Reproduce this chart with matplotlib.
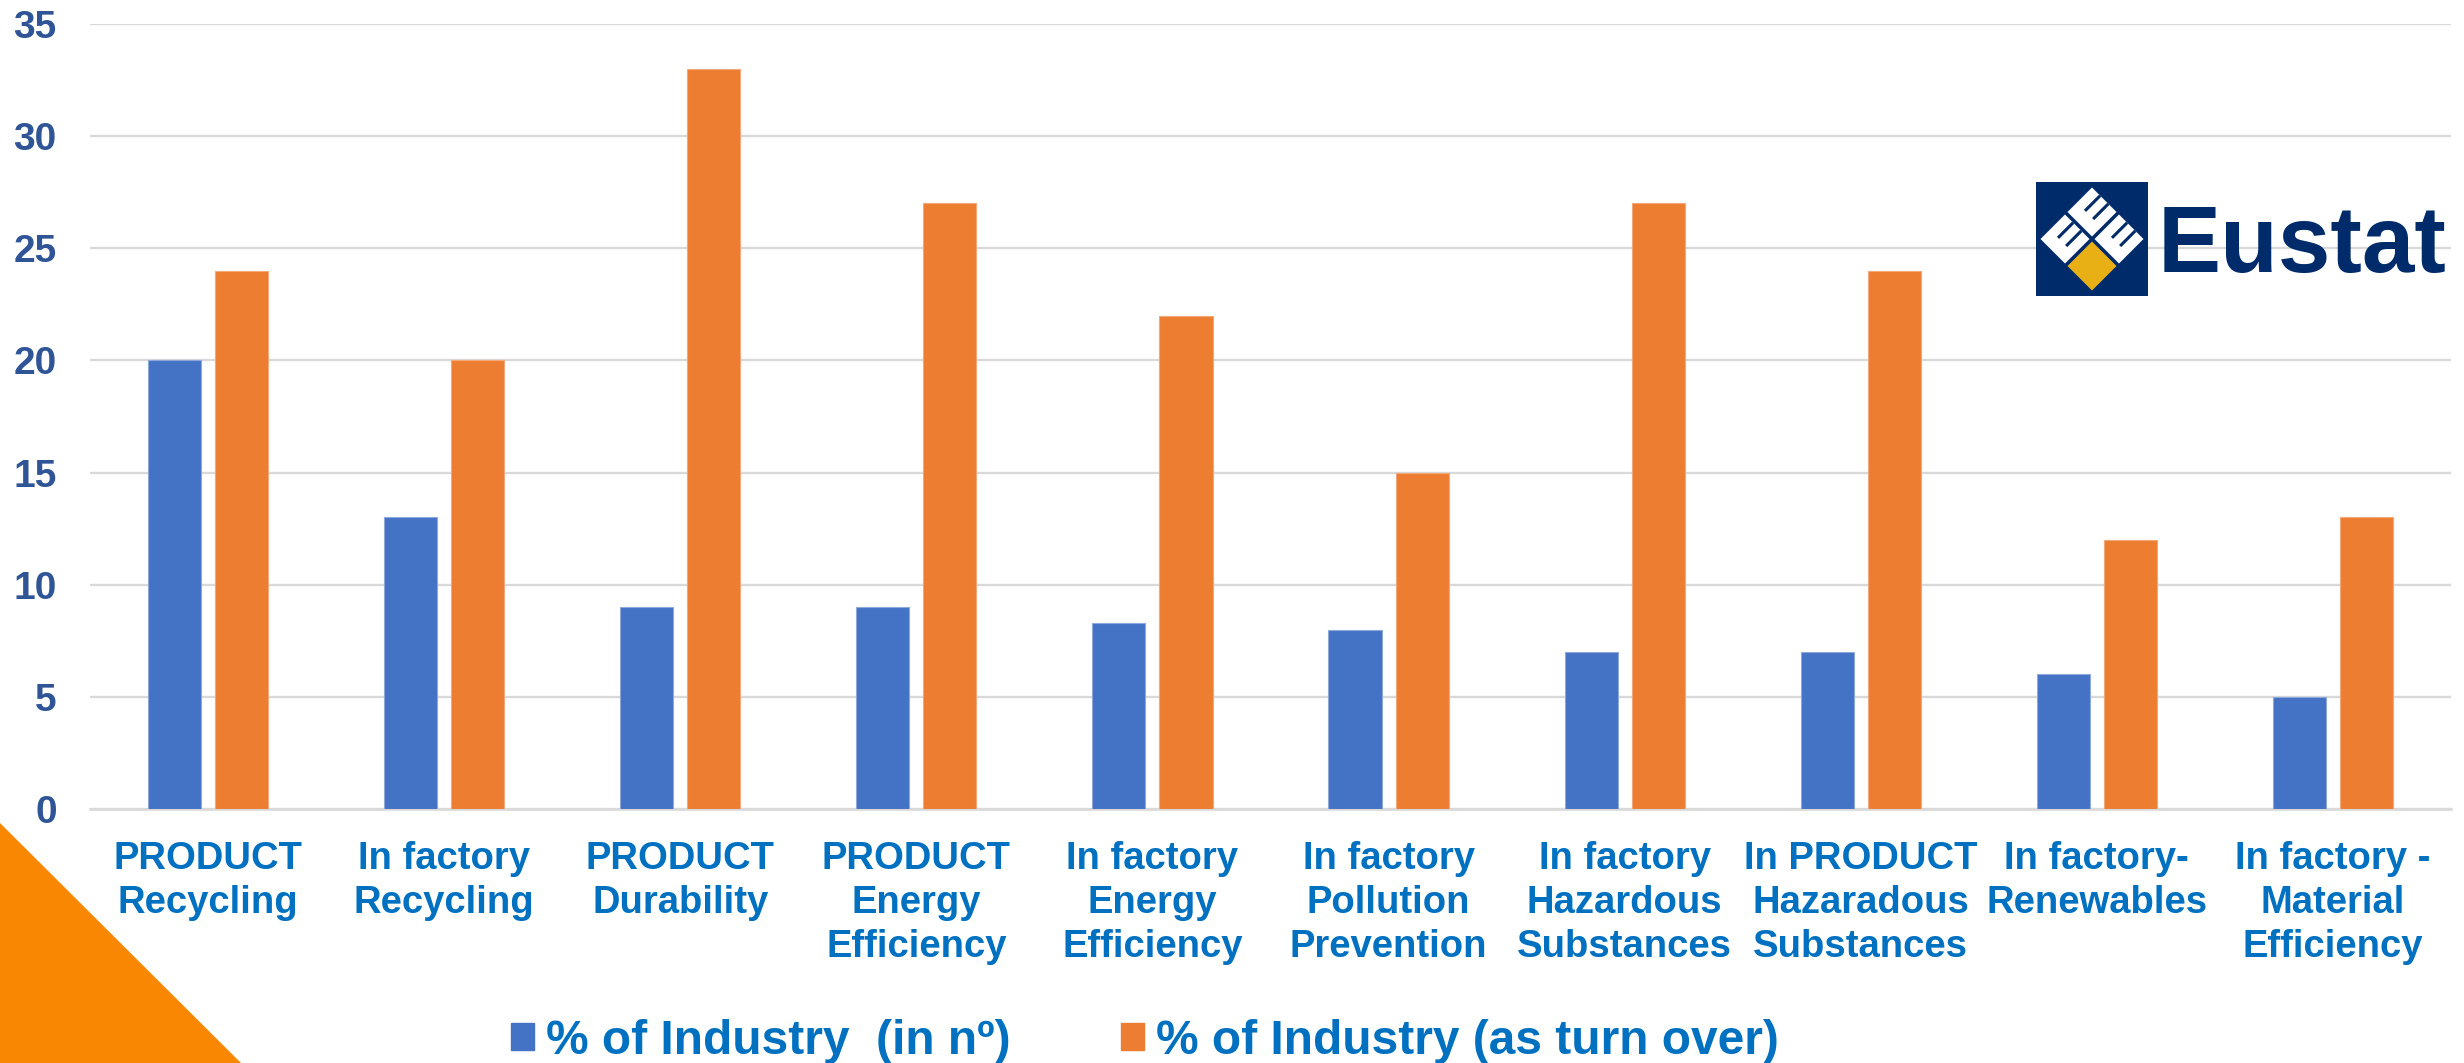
import matplotlib
matplotlib.use("Agg")
import matplotlib.pyplot as plt
import numpy as np
from matplotlib.patches import Polygon, Rectangle

plt.rcParams['font.family'] = ['Liberation Sans', 'DejaVu Sans']

categories = ["PRODUCT\nRecycling", "In factory\nRecycling", "PRODUCT\nDurability",
              "PRODUCT\nEnergy\nEfficiency", "In factory\nEnergy\nEfficiency",
              "In factory\nPollution\nPrevention", "In factory\nHazardous\nSubstances",
              "In PRODUCT\nHazaradous\nSubstances", "In factory-\nRenewables",
              "In factory -\nMaterial\nEfficiency"]
industry_n = [20, 13, 9, 9, 8.3, 8, 7, 7, 6, 5]
industry_turnover = [24, 20, 33, 27, 22, 15, 27, 24, 12, 13]
series_names = ["% of Industry  (in nº)", "% of Industry (as turn over)"]
yticks = [0, 5, 10, 15, 20, 25, 30, 35]

BLUE = '#4472C4'
ORANGE = '#ED7D31'
LABEL = '#0070C0'
TICK = '#2F5597'
NAVY = '#002B6A'
GOLD = '#E8B015'

W, H = 2464, 1063
fig = plt.figure(figsize=(W / 100, H / 100), dpi=100)
ax = fig.add_axes([90 / W, 1 - 809 / H, (2451 - 90) / W, (809 - 24) / H])

x = np.arange(len(categories))
bw = 0.225
off = 0.142
ax.bar(x - off, industry_n, bw, color=BLUE, zorder=3, edgecolor='#8FA8DC', linewidth=0.8)
ax.bar(x + off, industry_turnover, bw, color=ORANGE, zorder=3, edgecolor='#F2A878', linewidth=0.8)

ax.set_xlim(-0.5, len(categories) - 0.5)
ax.set_ylim(0, 35)
ax.set_yticks(yticks)
ax.yaxis.grid(True, color='#D9D9D9', linewidth=1.7, zorder=0)
ax.set_axisbelow(True)
for s in ['top', 'right', 'left']:
    ax.spines[s].set_visible(False)
ax.spines['bottom'].set_color('#D9D9D9')
ax.spines['bottom'].set_linewidth(1.9)
ax.tick_params(axis='both', length=0)
ax.tick_params(axis='y', pad=24, labelsize=28, labelcolor=TICK)
ax.tick_params(axis='x', pad=23)
ax.set_xticks(x)
ax.set_xticklabels(categories, fontsize=27.5, fontweight='bold', color=LABEL, linespacing=1.29)
for lab in ax.get_yticklabels():
    lab.set_fontweight('bold')

# legend
handles = [Rectangle((0, 0), 1, 1, color=BLUE), Rectangle((0, 0), 1, 1, color=ORANGE)]
leg = fig.legend(handles, series_names, loc='center', bbox_to_anchor=(1145 / W, 1 - 1041 / H),
                 ncol=2, frameon=False, prop={'size': 34.5, 'weight': 'bold'},
                 handlelength=0.48, handleheight=0.48, handletextpad=0.25, columnspacing=2.3,
                 borderpad=0, borderaxespad=0)
for t in leg.get_texts():
    t.set_color(LABEL)

# decoration overlay (pixel coordinates)
ov = fig.add_axes([0, 0, 1, 1], zorder=10)
ov.set_xlim(0, W)
ov.set_ylim(H, 0)
ov.axis('off')
ov.patch.set_alpha(0)

# orange triangle bottom-left
ov.add_patch(Polygon([(0, 823), (0, H), (241, H)], closed=True, color='#FA8702', lw=0))

# Eustat logo
ov.add_patch(Rectangle((2036, 182), 112, 114, color=NAVY, lw=0))

def diamond(cx, cy, h, color):
    ov.add_patch(Polygon([(cx, cy - h), (cx + h, cy), (cx, cy + h), (cx - h, cy)],
                         closed=True, color=color, lw=0))

cxc, cyc = 2092, 239
hd = 27
gap = 24.5
for (dx, dy) in [(0, -hd), (-hd, 0), (hd, 0)]:
    cx, cy = cxc + dx, cyc + dy
    diamond(cx, cy, gap, 'white')
    for t in (1 / 3, 2 / 3):
        ex, ey = cx + t * gap, cy - gap + t * gap
        L = 0.62 * gap
        ov.plot([ex, ex - L], [ey, ey + L], color=NAVY, lw=2.2, solid_capstyle='butt')
diamond(cxc, cyc + hd, gap, GOLD)

ov.text(2158, 272, "Eustat", fontsize=68, fontweight='bold', color=NAVY, va='baseline', ha='left')

fig.savefig("out.png", dpi=100)
